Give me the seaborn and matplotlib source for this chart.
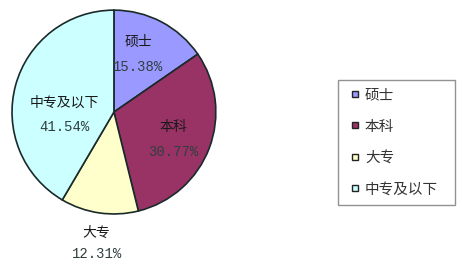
import numpy as np
import matplotlib
matplotlib.use("Agg")
import matplotlib.pyplot as plt
from matplotlib.lines import Line2D
import seaborn as sns

categories = ["硕士", "本科", "大专", "中专及以下"]
values = [15.38, 30.77, 12.31, 41.54]
pct_labels = ["15.38%", "30.77%", "12.31%", "41.54%"]
colors = ["#9999FF", "#993366", "#FFFFCC", "#CCFFFF"]

sns.set_theme(style="white")
plt.rcParams['font.family'] = ['Noto Sans CJK SC', 'DejaVu Sans']

fig = plt.figure(figsize=(4.62, 2.70), dpi=100)
ax = fig.add_axes([0.0216, 0.2, 0.450, 0.770])
wedges, _ = ax.pie(values, colors=colors, startangle=90, counterclock=False,
                   wedgeprops=dict(edgecolor="#1a2a2a", linewidth=1.2))
ax.set_xlim(-1.02, 1.02)
ax.set_ylim(-1.02, 1.02)
ax.set_aspect("equal")
ax.axis("off")

# label placement (radius factor, angle offset in deg, half gap)
place = [(0.615, 4.7, 0.12), (0.645, -4.0, 0.12), (1.30, 0.8, 0.10), (0.49, 18.6, 0.12)]
for w, cat, pct, (rf, off, g) in zip(wedges, categories, pct_labels, place):
    ang = np.deg2rad((w.theta1 + w.theta2) / 2 + off)
    x, y = rf * np.cos(ang), rf * np.sin(ang)
    ax.text(x, y + g, cat, ha="center", va="center", fontsize=10, color="#1a1a1a", clip_on=False)
    ax.text(x, y - g, pct, ha="center", va="center", fontsize=10, color="#2f3f3f",
            family=["Liberation Mono", "DejaVu Sans Mono"], clip_on=False)

handles = [Line2D([], [], linestyle="none", marker="s", markersize=5, markerfacecolor=c,
                  markeredgecolor="#222222", markeredgewidth=1.0) for c in colors]
leg = fig.legend(handles, categories, loc="upper left",
                 bbox_to_anchor=(338/462, 65/270, 117/462, 125/270), mode="expand",
                 frameon=True, fontsize=10.5, handlelength=1.2,
                 handletextpad=0.1, labelspacing=1.2, borderpad=0.55, fancybox=False,
                 borderaxespad=0, labelcolor="#333333")
leg.get_frame().set_edgecolor("#777777")
leg.get_frame().set_linewidth(1.0)

fig.savefig("out.png", dpi=100)
